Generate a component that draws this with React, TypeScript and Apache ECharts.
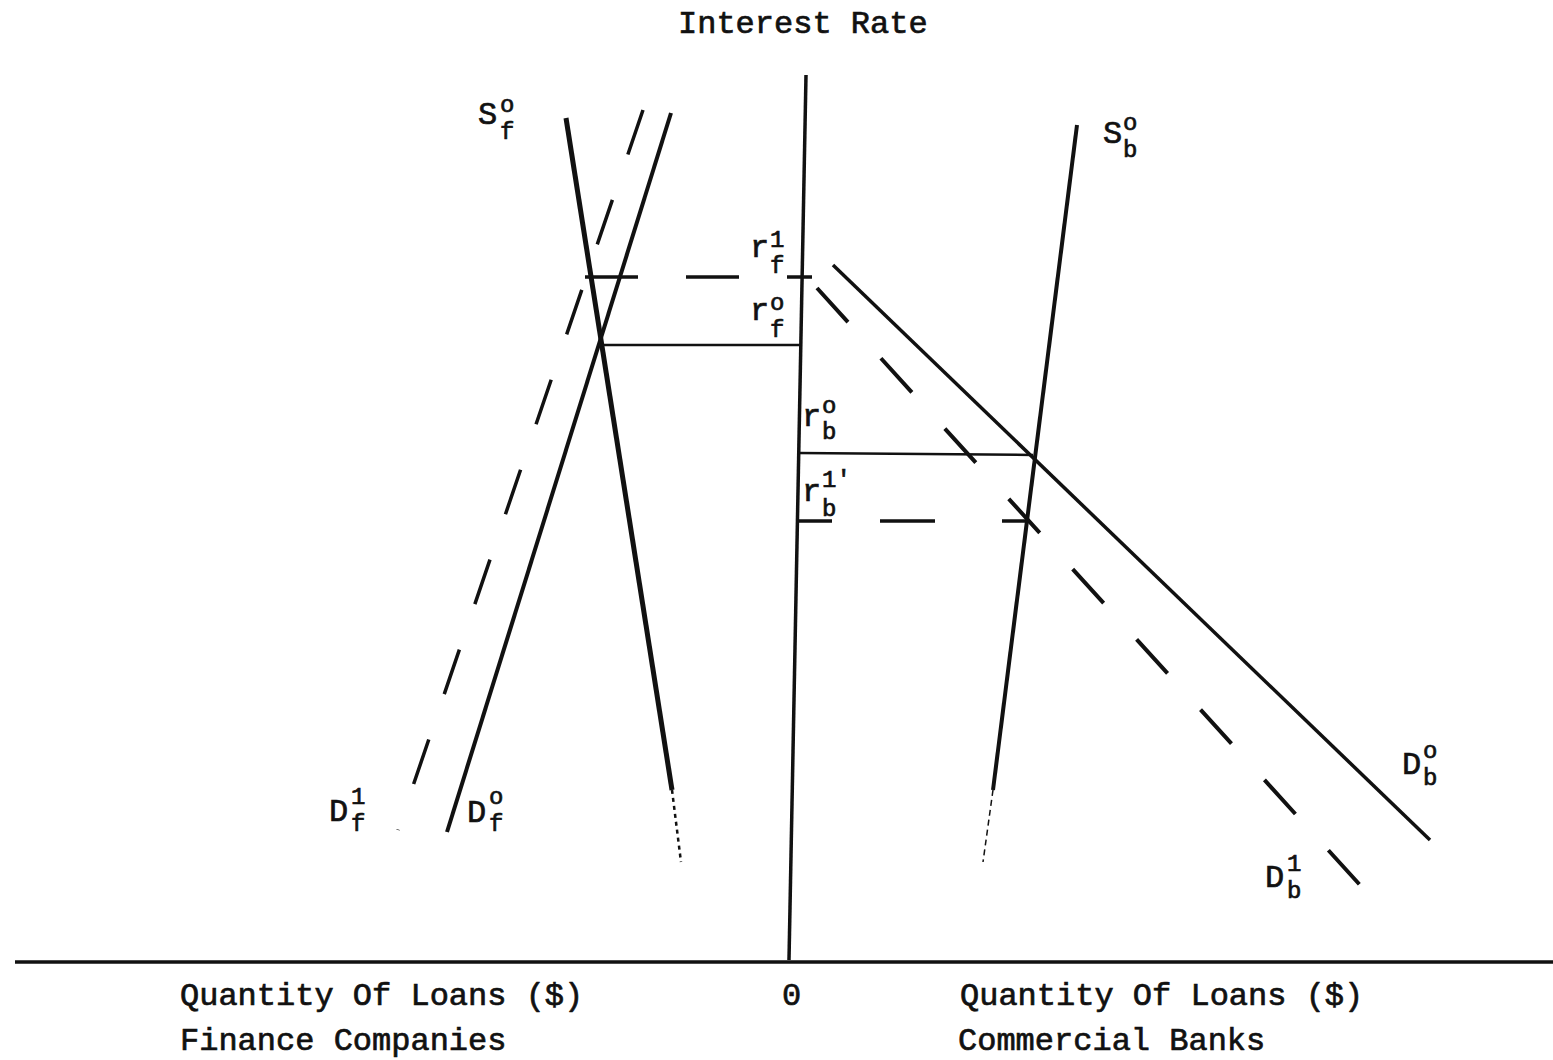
import React, { useEffect, useRef } from "react";
import * as echarts from "echarts";

// Quantity of loans (x) is measured from the common origin 0: finance companies to the left,
// commercial banks to the right. Interest rate (y) is measured up from the quantity axis.
type Pt = [number, number];

const quantityAxis: Pt[] = [[-775, 0], [763, 0]];
const rateAxis: Pt[] = [[16, 887], [-1, 2]];

// Finance companies
const supplyFinance0: Pt[] = [[-224, 844], [-118, 172]];
const supplyFinance0Tail: Pt[] = [[-118, 172], [-109, 100]];
const demandFinance0: Pt[] = [[-119, 849], [-343, 130]];
const demandFinance1: Pt[] = [[-147, 852], [-392, 132]];
const rateFinance1: Pt[] = [[-205, 685], [22, 685]];
const rateFinance0: Pt[] = [[-192, 617], [10, 617]];

// Commercial banks
const supplyBanks0: Pt[] = [[287, 837], [203, 172]];
const supplyBanks0Tail: Pt[] = [[203, 172], [193, 100]];
const demandBanks0: Pt[] = [[43, 697], [640, 122]];
const demandBanks1: Pt[] = [[27, 674], [570, 77]];
const rateBanks0: Pt[] = [[8, 509], [243, 507]];
const rateBanks1: Pt[] = [[8, 441], [240, 441]];

const axisTitle = "Interest Rate";
const quantityTitle = "Quantity Of Loans ($)";
const originLabel = "0";
const financeTitle = "Finance Companies";
const banksTitle = "Commercial Banks";

const FONT = "'Liberation Mono', 'DejaVu Sans Mono', monospace";
const INK = "#111";

type CurveLabel = {
  base: string;
  sup: string;
  sub: string;
  at: Pt;
  supAt: Pt;
  subAt: Pt;
};

// Curve and rate names: a letter with a superscript (period) and a subscript (market).
const curveLabels: CurveLabel[] = [
  { base: "S", sup: "o", sub: "f", at: [478, 115], supAt: [500, 105], subAt: [500, 132] },
  { base: "S", sup: "o", sub: "b", at: [1103, 134], supAt: [1123, 123], subAt: [1123, 150] },
  { base: "r", sup: "1", sub: "f", at: [750, 248], supAt: [770, 240], subAt: [770, 266] },
  { base: "r", sup: "o", sub: "f", at: [750, 311], supAt: [770, 303], subAt: [770, 330] },
  { base: "r", sup: "o", sub: "b", at: [802, 417], supAt: [822, 406], subAt: [822, 432] },
  { base: "r", sup: "1′", sub: "b", at: [802, 492], supAt: [822, 480], subAt: [822, 509] },
  { base: "D", sup: "1", sub: "f", at: [329, 812], supAt: [351, 797], subAt: [351, 824] },
  { base: "D", sup: "o", sub: "f", at: [467, 813], supAt: [489, 797], subAt: [489, 824] },
  { base: "D", sup: "o", sub: "b", at: [1402, 765], supAt: [1423, 751], subAt: [1423, 778] },
  { base: "D", sup: "1", sub: "b", at: [1265, 878], supAt: [1287, 864], subAt: [1287, 891] },
];

function segment(data: Pt[], width: number, type: any = "solid") {
  return {
    type: "line",
    data,
    showSymbol: false,
    symbol: "none",
    silent: true,
    lineStyle: { color: INK, width, type, cap: "butt" },
    z: 2,
  };
}

function text(content: string, x: number, y: number, size: number) {
  return {
    type: "text",
    x,
    y,
    silent: true,
    style: {
      text: content,
      fill: INK,
      stroke: INK,
      lineWidth: 0.7,
      fontFamily: FONT,
      fontSize: size,
      textAlign: "left",
      textVerticalAlign: "middle",
    },
  };
}

export default function App() {
  const ref = useRef<HTMLDivElement>(null);

  useEffect(() => {
    if (!ref.current) return;
    const chart = echarts.init(ref.current, null, { renderer: "svg" });

    const labelElements: any[] = [];
    curveLabels.forEach((l) => {
      labelElements.push(text(l.base, l.at[0], l.at[1], 32));
      labelElements.push(text(l.sup, l.supAt[0], l.supAt[1], 24));
      labelElements.push(text(l.sub, l.subAt[0], l.subAt[1], 24));
    });

    chart.setOption({
      animation: false,
      backgroundColor: "#ffffff",
      grid: { left: 0, right: 0, top: 0, bottom: 0, containLabel: false },
      xAxis: { type: "value", min: -790, max: 763, show: false },
      yAxis: { type: "value", min: -98, max: 962, show: false },
      series: [
        segment(quantityAxis, 3.5),
        segment(rateAxis, 3.5),
        segment(supplyFinance0, 5),
        segment(supplyFinance0Tail, 2.5, [4, 4]),
        segment(demandFinance0, 4),
        segment(demandFinance1, 3.5, [47, 48]),
        segment(rateFinance1, 3.5, [53, 48]),
        segment(rateFinance0, 2.5),
        segment(supplyBanks0, 4),
        segment(supplyBanks0Tail, 1.5, [6, 4]),
        segment(demandBanks0, 3.5),
        segment(demandBanks1, 4, [46, 49]),
        segment(rateBanks0, 2.5),
        segment(rateBanks1, 3.5, [34, 48, 55, 67, 40]),
      ],
      graphic: [
        text(axisTitle, 678, 24, 32),
        text(quantityTitle, 180, 996, 32),
        text(originLabel, 782, 996, 32),
        text(quantityTitle, 960, 996, 32),
        text(financeTitle, 180, 1041, 32),
        text(banksTitle, 958, 1041, 32),
        ...labelElements,
      ],
    });

    return () => chart.dispose();
  }, []);

  return (
    <div
      ref={ref}
      style={{ position: "absolute", left: 0, top: 0, width: 1553, height: 1060, background: "#fff" }}
    />
  );
}
